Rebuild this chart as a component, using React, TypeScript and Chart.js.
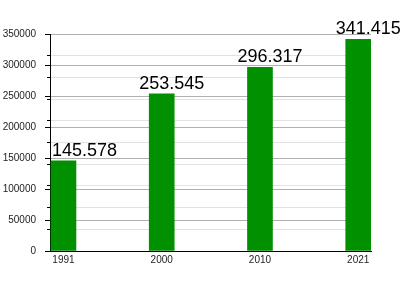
import React, { useEffect, useRef } from "react";
import { Chart, registerables } from "chart.js";

Chart.register(...registerables);

const years = ["1991", "2000", "2010", "2021"];
const population = [145578, 253545, 296317, 341415];
const yMax = 350000;
const majorStep = 50000;
const minorStep = 35000;

function fmt(v: number): string {
  return String(v).replace(/\B(?=(\d{3})+(?!\d))/g, ".");
}

const valueLabels = {
  id: "valueLabels",
  afterDatasetsDraw(chart: any) {
    const ctx = chart.ctx;
    const meta = chart.getDatasetMeta(0);
    ctx.save();
    ctx.font = '18px "Liberation Sans", Arial, sans-serif';
    ctx.fillStyle = "#000";
    ctx.textBaseline = "alphabetic";
    ctx.textAlign = "left";
    meta.data.forEach((bar: any, i: number) => {
      const txt = fmt(population[i]);
      const w = ctx.measureText(txt).width;
      let left = bar.x + 10 - w / 2;
      if (left < chart.chartArea.left + 2) left = chart.chartArea.left + 2;
      ctx.fillText(txt, left, bar.y - 5);
    });
    ctx.restore();
  },
};

export default function App() {
  const ref = useRef<HTMLCanvasElement>(null);
  useEffect(() => {
    document.body.style.margin = "0";
    const chart = new Chart(ref.current!, {
      type: "bar",
      data: {
        datasets: [
          {
            data: population.map((v, i) => ({ x: i, y: v })),
            backgroundColor: "#009000",
            barThickness: 25,
            yAxisID: "y",
            xAxisID: "x",
          },
        ],
      },
      plugins: [valueLabels],
      options: {
        responsive: false,
        animation: false,
        layout: { padding: { top: 34, right: 29, left: 0, bottom: 0 } },
        plugins: { legend: { display: false }, tooltip: { enabled: false } },
        scales: {
          x: {
            type: "linear",
            offset: false,
            min: -0.137,
            max: 3.13,
            grid: { display: false, offset: false, drawTicks: false },
            border: { display: true, color: "#000", width: 1 },
            afterBuildTicks: (s: any) => {
              s.ticks = years.map((_, i) => ({ value: i }));
            },
            afterFit: (s: any) => {
              s.height = 49;
            },
            ticks: {
              padding: 3,
              color: "#222",
              font: { family: '"Liberation Sans", Arial, sans-serif', size: 10 },
              maxRotation: 0,
              autoSkip: false,
              callback: (v: any) => years[v] ?? "",
            },
          },
          yMinor: {
            type: "linear",
            position: "left",
            weight: 0,
            min: 0,
            max: yMax,
            afterBuildTicks: (s: any) => {
              const t = [];
              for (let v = 0; v <= yMax; v += minorStep) t.push({ value: v });
              s.ticks = t;
            },
            afterFit: (s: any) => {
              s.width = 0;
            },
            border: { display: false },
            grid: {
              color: "#e2e2e2",
              tickColor: "#000",
              tickLength: 3,
              drawTicks: true,
            },
            ticks: { display: false },
          },
          y: {
            type: "linear",
            position: "left",
            weight: 1,
            min: 0,
            max: yMax,
            afterBuildTicks: (s: any) => {
              const t = [];
              for (let v = 0; v <= yMax; v += majorStep) t.push({ value: v });
              s.ticks = t;
            },
            afterFit: (s: any) => {
              s.width = 50;
            },
            border: { display: true, color: "#000", width: 1 },
            grid: {
              color: (c: any) => (c.tick && c.tick.value === 0 ? "rgba(0,0,0,0)" : "#b0b0b0"),
              tickColor: "#000",
              tickLength: 5,
            },
            ticks: {
              padding: 9,
              color: "#222",
              font: { family: '"Liberation Sans", Arial, sans-serif', size: 10 },
              callback: (v: any) => String(v),
            },
          },
        },
      },
    } as any);
    return () => chart.destroy();
  }, []);
  return <canvas ref={ref} width={400} height={300} style={{ display: "block" }} />;
}
